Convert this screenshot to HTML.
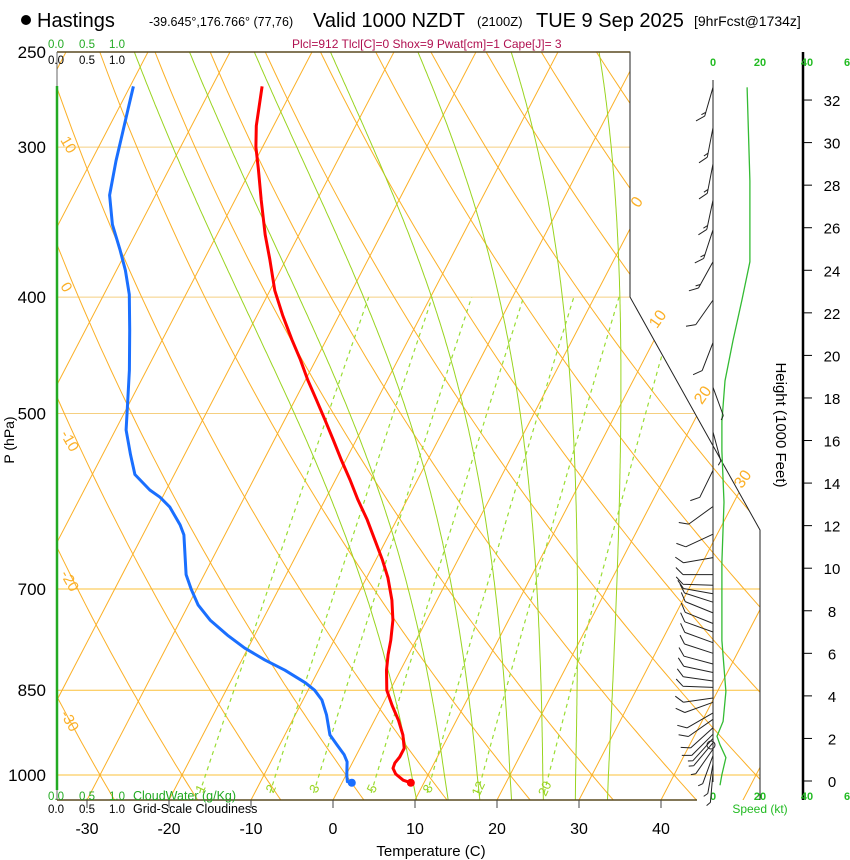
<!DOCTYPE html>
<html><head><meta charset="utf-8"><style>
html,body{margin:0;padding:0;background:#fff;}
svg{display:block;font-family:"Liberation Sans",sans-serif;}
</style></head><body>
<svg id="chart" width="850" height="860" viewBox="0 0 850 860" xmlns="http://www.w3.org/2000/svg">
<defs><clipPath id="plotclip"><polygon points="57,52 630,52 630,297 760,530 760,800 57,800"/></clipPath></defs>
<g id="title">
<circle cx="26" cy="20" r="5" fill="#000"/>
<text x="37" y="27" font-size="20">Hastings</text>
<text x="149" y="26" font-size="12.5">-39.645°,176.766° (77,76)</text>
<text x="313" y="27" font-size="20">Valid 1000 NZDT</text>
<text x="477" y="26" font-size="13">(2100Z)</text>
<text x="536" y="27" font-size="20">TUE 9 Sep 2025</text>
<text x="694" y="26" font-size="14">[9hrFcst@1734z]</text>
<text x="292" y="48" font-size="12" fill="#b01050">Plcl=912 Tlcl[C]=0 Shox=9 Pwat[cm]=1 Cape[J]= 3</text>
</g>
<g id="bg" clip-path="url(#plotclip)"></g>
<g id="frame">
<polyline points="57,52 630,52 630,297 760,530 760,800" fill="none" stroke="#222" stroke-width="1"/>
<line x1="57" y1="52" x2="630" y2="52" stroke="#5a4a20" stroke-width="1.5"/>
<line x1="57" y1="52" x2="57" y2="800" stroke="#666" stroke-width="1"/>
<line x1="57" y1="800" x2="697" y2="800" stroke="#5a4a20" stroke-width="1.5"/>
<line x1="57" y1="86" x2="57" y2="790" stroke="#22aa22" stroke-width="2.5"/>
<line x1="713" y1="80" x2="713" y2="782" stroke="#222" stroke-width="1"/>
<line x1="803" y1="52" x2="803" y2="800" stroke="#000" stroke-width="2.5"/>
</g>
<g id="labels"></g>
<g id="profiles"></g>
<g id="winds"></g>
</svg>
<script>
const NS="http://www.w3.org/2000/svg";
// ---- data ----
const tempP=[267,288,300,313,332,355,372,395,414,434,451,469,487,506,526,547,568,590,613,637,662,685,715,743,772,794,818,850,875,900,926,950,966,977,987,998,1010,1015];
const tempC=[-53.9,-52.1,-50.8,-49.1,-46.8,-44.1,-42.0,-39.4,-36.9,-34.2,-31.9,-29.7,-27.4,-25.1,-22.8,-20.5,-18.2,-16.0,-13.6,-11.4,-9.2,-7.4,-5.5,-4.1,-3.1,-2.5,-1.7,-0.4,1.2,2.9,4.4,5.4,5.4,5.2,5.3,6.0,7.3,8.4];
const dewP=[267,279,293,308,329,348,365,380,398,426,460,487,516,541,562,579,587,598,619,631,681,701,722,743,765,784,802,818,838,850,866,891,926,944,962,975,1000,1013,1015];
const dewC=[-69.6,-68.8,-67.9,-67.0,-65.6,-63.4,-60.9,-58.9,-56.9,-54.6,-52.1,-50.4,-48.7,-46.6,-44.8,-42.0,-40.3,-38.5,-36.1,-35.0,-32.2,-30.6,-28.8,-26.4,-23.3,-20.4,-17.2,-14.1,-10.8,-9.2,-7.7,-6.2,-4.5,-3.0,-1.5,-0.7,0.1,0.6,1.2];
const windH=[32.6,30.7,29.0,27.3,25.9,24.4,22.6,20.6,18.5,16.4,14.6,12.9,11.6,10.5,9.7,9.2,8.8,8.4,7.9,7.4,7.0,6.5,6.0,5.5,5.1,4.7,4.4,3.9,3.7,3.2,2.9,2.5,2.2,2.0,1.8,1.5,1.2,0.8,0.4];
const windDir=[196,191,191,192,198,209,215,201,160,165,206,234,245,260,270,272,280,288,292,292,290,290,288,285,282,278,272,262,250,240,235,228,225,222,220,215,200,190,185];
const windSpd=[15,15,15,15,15,15,10,10,5,5,10,10,10,10,10,10,10,10,10,10,10,10,10,10,10,10,10,10,10,10,10,10,10,5,5,5,5,5,5];
const spdH=[32.6,28.2,24.4,22.6,20.7,18.8,16.9,15.5,13.1,10.3,6.6,4.2,2.8,2.1,1.7,1.1,0.3,-0.2];
const spdKt=[14.5,15.7,15.7,12.3,8.5,5.1,3.8,3.8,4.7,3.8,3.8,5.5,4.3,1.7,3.0,5.5,3.8,3.0];
const pTicks=[250,300,400,500,700,850,1000];
const tTicks=[-30,-20,-10,0,10,20,30,40];
const hTicks=[0,2,4,6,8,10,12,14,16,18,20,22,24,26,28,30,32];
const isoT=[-110,-100,-90,-80,-70,-60,-50,-40,-30,-20,-10,0,10,20,30,40,50];
const thetaC=[-40,-30,-20,-10,0,10,20,30,40,50,60,70,80,90,100,110,120,130,140,150,160];
const thetaW=[8,12,16,20,24,28,32];
const mixW=[1,2,3,5,8,12,20];
// ---- axes ----
function yOf(p){return 775-521.5*Math.log(1000/p);}
function xOf(T,p){return 333+8.2*T+0.52*(800-yOf(p));}
function yH(h){return 781-21.28*h;}
function xS(s){return 713+2.35*s;}
function mk(tag,attrs,parent){const e=document.createElementNS(NS,tag);for(const k in attrs)e.setAttribute(k,attrs[k]);parent.appendChild(e);return e;}
function path(pts){return pts.map((q,i)=>(i?'L':'M')+q[0].toFixed(1)+','+q[1].toFixed(1)).join('');}
const bg=document.getElementById('bg'),lab=document.getElementById('labels'),prof=document.getElementById('profiles'),wg=document.getElementById('winds');
// isobars
pTicks.forEach(p=>{const y=yOf(p);const heavy=p>=700;
 const l=mk('line',{x1:57,x2:760,y1:y,y2:y,stroke:heavy?'#fbc03a':'#f5cf80','stroke-width':1},bg);
 
 });
// isotherms
isoT.forEach(T=>{const l=mk('path',{d:path([[xOf(T,1060),yOf(1060)],[xOf(T,240),yOf(240)]]),stroke:'#fbb027',fill:'none','stroke-width':1},bg);
 
 });
// dry adiabats
thetaC.forEach(th=>{const pts=[];for(let p=1060;p>=240;p-=10){const T=(th+273.15)*Math.pow(p/1000,0.2857)-273.15;pts.push([xOf(T,p),yOf(p)]);}
 const l=mk('path',{d:path(pts),stroke:'#fbb027',fill:'none','stroke-width':1},bg);
 
 });
// moist adiabats
function es(T){return 6.112*Math.exp(17.67*T/(T+243.5));}
function dTdlnp(T,p){const Tk=T+273.15,e=es(T),rs=0.622*e/(p-e);return (287*Tk+2.5e6*rs)/(1005+2.5e6*2.5e6*rs*0.622/(287*Tk*Tk));}
thetaW.forEach(tw=>{let pts=[];let T=tw,p=1000;const dl=0.005;
 let T2=tw;for(let lp=Math.log(1000);lp<Math.log(1060);lp+=dl){T2+=dTdlnp(T2,Math.exp(lp))*dl;}
 pts.push([xOf(T2,1060),yOf(1060)]);pts.push([xOf(T,1000),yOf(1000)]);
 for(let lp=Math.log(1000);lp>Math.log(240);lp-=dl){T-=dTdlnp(T,Math.exp(lp))*dl;const pp=Math.exp(lp-dl);pts.push([xOf(T,pp),yOf(pp)]);}
 const l=mk('path',{d:path(pts),stroke:'#99d420',fill:'none','stroke-width':1},bg);
 
 });
// mixing ratio lines
function tdOf(w,p){const e=w*p/(622+w);const a=Math.log(e/6.112);return 243.5*a/(17.67-a);}
mixW.forEach(w=>{const pts=[];for(let p=1035;p>=400;p-=5)pts.push([xOf(tdOf(w,p),p),yOf(p)]);
 const l=mk('path',{d:path(pts),stroke:'#99dd33',fill:'none','stroke-width':1.2,'stroke-dasharray':'4,4'},bg);
 
 
 const x=xOf(tdOf(w,1030),1030)+4,y=yOf(1030);
 const t=mk('text',{x:x,y:y,'font-size':13,fill:'#99d420','text-anchor':'middle',transform:`rotate(-65 ${x} ${y})`},lab);t.textContent=w;
 
 });
// isotherm labels (right) & adiabat labels (left)
[[0,641,205],[10,662,322],[20,707,398],[30,747,482]].forEach(a=>{const t=mk('text',{x:a[1],y:a[2],'font-size':16,fill:'#fbb027','text-anchor':'middle',transform:`rotate(-55 ${a[1]} ${a[2]})`},lab);t.textContent=a[0];
 
 });
[[10,140],[0,286],[-10,434],[-20,574],[-30,714]].forEach(a=>{const t=mk('text',{x:60,y:a[1],'font-size':15,fill:'#fbb027',transform:`rotate(60 60 ${a[1]})`},lab);t.textContent=a[0];
 
 });
// pressure labels
pTicks.forEach(p=>{const t=mk('text',{x:46,y:yOf(p)+6,'font-size':17,'text-anchor':'end'},lab);t.textContent=p;
 
 });
{const t=mk('text',{x:14,y:440,'font-size':14,'text-anchor':'middle',transform:'rotate(-90 14 440)'},lab);t.textContent='P (hPa)';
 
 }
// temperature ticks
tTicks.forEach(T=>{const x=333+8.2*T;mk('line',{x1:x,x2:x,y1:800,y2:808,stroke:'#444'},lab);
 const t=mk('text',{x:x,y:834,'font-size':16,'text-anchor':'middle'},lab);t.textContent=T;
 
 });
{const t=mk('text',{x:431,y:856,'font-size':15,'text-anchor':'middle'},lab);t.textContent='Temperature (C)';
 
 }
// height axis
hTicks.forEach(h=>{const y=yH(h);mk('line',{x1:803,x2:812,y1:y,y2:y,stroke:'#000'},lab);
 const t=mk('text',{x:832,y:y+6,'font-size':15,'text-anchor':'middle'},lab);t.textContent=h;
 
 });
{const t=mk('text',{x:776,y:425,'font-size':15,'text-anchor':'middle',transform:'rotate(90 776 425)'},lab);t.textContent='Height (1000 Feet)';
 
 }
// speed scale labels
[[0,'0'],[20,'20'],[40,'40'],[60,'6']].forEach(a=>{[66,800].forEach(y=>{const t=mk('text',{x:a[0]==60?847:xS(a[0]),y:y,'font-size':11,'font-weight':'bold',fill:'#22bb22','text-anchor':'middle'},lab);t.textContent=a[1];
 
 });});
{const t=mk('text',{x:760,y:813,'font-size':12,fill:'#22bb22','text-anchor':'middle'},lab);t.textContent='Speed (kt)';
 
 }
// cloud legends
[[48,'#22aa22','0.0'],[79,'#22aa22','0.5'],[109,'#22aa22','1.0']].forEach(a=>{
 [[48,a[1]],[64,'#000'],[800,a[1]],[813,'#000']].forEach(r=>{const t=mk('text',{x:a[0],y:r[0],'font-size':11.5,fill:r[1]},lab);t.textContent=a[2];
 
 });});
{let t=mk('text',{x:133,y:800,'font-size':12.5,fill:'#22aa22'},lab);t.textContent='CloudWater (g/Kg)';
 
 
 t=mk('text',{x:133,y:813,'font-size':12.5,fill:'#000'},lab);t.textContent='Grid-Scale Cloudiness';
 
 }
// profiles
{const d=mk('path',{d:path(dewP.map((p,i)=>[xOf(dewC[i],p),yOf(p)])),stroke:'#1a6fff',fill:'none','stroke-width':3,'stroke-linejoin':'round'},prof);
 
 
 const t=mk('path',{d:path(tempP.map((p,i)=>[xOf(tempC[i],p),yOf(p)])),stroke:'#ff0000',fill:'none','stroke-width':3,'stroke-linejoin':'round'},prof);
 
 
 const n=dewP.length-1,m=tempP.length-1;
 const c1=mk('circle',{cx:xOf(dewC[n],dewP[n]),cy:yOf(dewP[n]),r:4,fill:'#1a6fff'},prof);
 
 
 const c2=mk('circle',{cx:xOf(tempC[m],tempP[m]),cy:yOf(tempP[m]),r:4,fill:'#ff0000'},prof);
 
 }
// wind speed line
{const s=mk('path',{d:path(spdH.map((h,i)=>[xS(spdKt[i]),yH(h)])),stroke:'#33bb33',fill:'none','stroke-width':1.3},wg);
 
 }
// barbs
windH.forEach((h,i)=>{const x0=713,y0=yH(h),a=windDir[i]*Math.PI/180,L=30;
 const ux=Math.sin(a),uy=-Math.cos(a);const x1=x0+ux*L,y1=y0+uy*L;
 const c=Math.cos(Math.PI/4),s=Math.sin(Math.PI/4);const bx=ux*c-uy*s,by=ux*s+uy*c;
 let d=`M${x0},${y0.toFixed(1)}L${x1.toFixed(1)},${y1.toFixed(1)}`;
 let sp=windSpd[i],k=0;
 while(sp>=10){const px=x1-ux*4*k,py=y1-uy*4*k;d+=`M${px.toFixed(1)},${py.toFixed(1)}l${(bx*10).toFixed(1)},${(by*10).toFixed(1)}`;sp-=10;k++;}
 if(sp>=5){const px=x1-ux*4*k,py=y1-uy*4*k;d+=`M${px.toFixed(1)},${py.toFixed(1)}l${(bx*5).toFixed(1)},${(by*5).toFixed(1)}`;}
 const b=mk('path',{d:d,stroke:'#222',fill:'none','stroke-width':1},wg);
 
 });
{const c=mk('circle',{cx:711,cy:745,r:4,fill:'none',stroke:'#222'},wg);
 
 }
</script>
</body></html>
